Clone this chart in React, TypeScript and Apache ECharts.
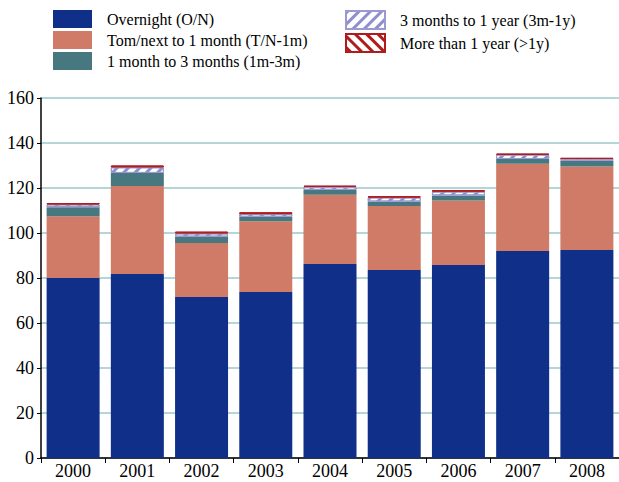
import React, { useEffect, useRef } from "react";
import * as echarts from "echarts";

const years = ["2000", "2001", "2002", "2003", "2004", "2005", "2006", "2007", "2008"];
const overnight = [80, 81.8, 71.6, 73.8, 86.2, 83.6, 85.8, 92, 92.4];
const tomNext = [27.5, 39.1, 24, 31.4, 30.8, 28.4, 28.7, 38.8, 37.2];
const oneToThree = [4, 5.8, 2.8, 2, 2.2, 2, 2.2, 2.1, 2.5];
const threeToYear = [1.2, 2.5, 1.4, 1.2, 1.3, 1.8, 1.7, 1.9, 0.9];
const overYear = [0.6, 0.8, 0.8, 0.8, 0.5, 0.5, 0.6, 0.4, 0.3];

const names = [
  "Overnight (O/N)",
  "Tom/next to 1 month (T/N-1m)",
  "1 month to 3 months (1m-3m)",
  "3 months to 1 year (3m-1y)",
  "More than 1 year (>1y)",
];

const FONT = "'Liberation Serif', 'Times New Roman', serif";

export default function App() {
  const ref = useRef<HTMLDivElement>(null);
  useEffect(() => {
    if (!ref.current) return;
    const chart = echarts.init(ref.current, undefined, { renderer: "svg" });
    const base = { type: "bar", stack: "total", barWidth: 53 };
    const legendCommon = {
      top: 5,
      orient: "vertical",
      icon: "rect",
      itemWidth: 39,
      itemHeight: 18,
      itemGap: 3,
      selectedMode: false,
      textStyle: { fontFamily: FONT, fontSize: 16, color: "#000", padding: [0, 0, 0, 10] },
    };
    chart.setOption({
      animation: false,
      textStyle: { fontFamily: FONT },
      legend: [
        { ...legendCommon, left: 48, data: names.slice(0, 3) },
        { ...legendCommon, left: 340, data: names.slice(3) },
      ],
      grid: { left: 41, right: -3, top: 98, bottom: 24, containLabel: false },
      xAxis: {
        type: "category",
        data: years,
        axisLine: { lineStyle: { color: "#000", width: 1.5 } },
        axisTick: { show: true, length: 5, lineStyle: { color: "#000" } },
        axisLabel: { color: "#000", fontSize: 18, fontFamily: FONT, margin: 4 },
      },
      yAxis: {
        type: "value",
        min: 0,
        max: 160,
        interval: 20,
        axisLine: { show: true, lineStyle: { color: "#000", width: 1.5 } },
        axisTick: { show: true, length: 4, lineStyle: { color: "#000" } },
        axisLabel: { color: "#000", fontSize: 18, fontFamily: FONT, margin: 7 },
        splitLine: { lineStyle: { color: "#9cc9cd", width: 1.5 } },
      },
      series: [
        { ...base, name: names[0], data: overnight, itemStyle: { color: "#0f2f89" } },
        { ...base, name: names[1], data: tomNext, itemStyle: { color: "#cf7b68" } },
        { ...base, name: names[2], data: oneToThree, itemStyle: { color: "#48787f" } },
        {
          ...base,
          name: names[3],
          data: threeToYear,
          itemStyle: {
            color: "#ffffff",
            borderColor: "#9a9ad0",
            borderWidth: 1,
            decal: {
              symbol: "rect",
              symbolSize: 1,
              color: "#8e8ed0",
              backgroundColor: "#ffffff",
              dashArrayX: [1, 0],
              dashArrayY: [2.5, 5],
              rotation: -Math.PI / 4,
            },
          },
        },
        {
          ...base,
          name: names[4],
          data: overYear,
          itemStyle: {
            color: "#ffffff",
            borderColor: "#b01c1c",
            borderWidth: 1,
            decal: {
              symbol: "rect",
              symbolSize: 1,
              color: "#b01c1c",
              backgroundColor: "#ffffff",
              dashArrayX: [1, 0],
              dashArrayY: [2.5, 5],
              rotation: Math.PI / 4,
            },
          },
        },
      ],
    });
    return () => chart.dispose();
  }, []);
  return (
    <div
      ref={ref}
      style={{ position: "fixed", left: 0, top: 0, width: 619, height: 482, background: "#fff" }}
    />
  );
}
